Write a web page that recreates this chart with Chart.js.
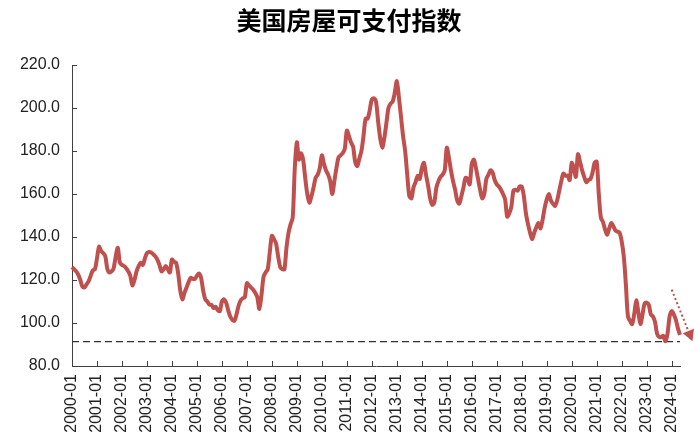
<!DOCTYPE html>
<html>
<head>
<meta charset="utf-8">
<script src="https://cdn.jsdelivr.net/npm/chart.js@4.4.1/dist/chart.umd.min.js"></script>
<style>
  html, body { margin: 0; padding: 0; background: #ffffff; }
  #wrap { width: 700px; height: 438px; position: relative; }
</style>
</head>
<body>
<div id="wrap"><canvas id="c" width="700" height="438"></canvas></div>
<script>
// ---- DATA ----
const title = '美国房屋可支付指数';
const startYear = 2000;
const affordability = [
  // 2000
  126,125,124,122.5,120,117,116.5,118,119.5,122,124.5,125,
  // 2001
  130,135.5,133.5,132.5,131,125,123.5,124,125.5,131,135,128,
  // 2002
  127,126.5,125.5,124,122,117.5,120,124,126.5,128,127,130,
  // 2003
  132.5,133,132.8,132,131,129.5,127,124,125,126.5,125,123.5,
  // 2004
  129.5,128.5,128,123,115,111,114,116.5,119,121,120.5,120.5,
  // 2005
  122,123,121,115,111,110,108.5,108.5,107,107.5,106,105.5,
  // 2006
  110,111,109.5,106,103,101.5,101,104,108,110.5,111.5,112,
  // 2007
  118.5,117.5,116.5,115.5,114,112,106.5,113,121.5,123.5,125,133,
  // 2008
  140.5,139,137,131,126,125,125,135,142,146,149,172,
  // 2009
  184,176,179,176,167.5,160,156,159,163,167.5,169,172,
  // 2010
  178,174,171,169,166,160,166,172,177,178,179,181,
  // 2011
  189.5,187,184,182,175,173,176.5,180,187,195,195,199,
  // 2012
  204,204.5,203,194,186,181.5,186,193,200,202,203,207,
  // 2013
  212.5,205,196,187,180,169,159,158,163,165.5,168.5,167,
  // 2014
  172,174.5,169,164,158,155,156,163,166,168,169,171,
  // 2015
  181.5,177,171,166,162,157,155.5,159,163,167.5,167,164.5,
  // 2016
  174,176,172,167,162,158,160,167,169,171,170,166.5,
  // 2017
  164.5,163.5,162,160,157.5,149.5,151,154,161.5,162,161.5,163.5,
  // 2018
  163.5,159,151,146,142,139,142,144.5,146.5,144,148,153.5,
  // 2019
  157.5,160,157,155.5,154.5,157,161.5,166,169.5,168.5,168.5,166.5,
  // 2020
  174.5,172,168,178.5,175,171,168,165.5,166.5,167,170,174.5,
  // 2021
  175,160,149,147,143.5,141,144,146.5,145,143,142.5,142,
  // 2022
  138,131,118,103,101,99.5,104,110.5,105,99.5,104,109,
  // 2023
  109.5,108.5,104,103,100.5,95,93.5,93.5,94,91.5,95,103,
  // 2024
  105.5,104,101.5,97.5,94.5
];
const floorLevel = 91.3;            // dashed reference line (series low)
const yTicks = [80, 100, 120, 140, 160, 180, 200, 220];
const arrowFrom = [288, 115.5];     // [month index, value]
const arrowTo = [298, 91.5];

// category labels (YYYY-MM)
const months = [];
for (let i = 0; i < affordability.length; i++) {
  const y = startYear + Math.floor(i / 12);
  const m = (i % 12) + 1;
  months.push(y + '-' + (m < 10 ? '0' + m : m));
}
const floorSeries = months.map(() => floorLevel);

const RED = 'rgb(192,80,77)';
const AXIS = '#404040';
const FONT = "'Liberation Sans', Arial, sans-serif";

const decor = {
  id: 'decor',
  afterDraw(chart) {
    const {ctx} = chart;
    const xs = chart.scales.x, ys = chart.scales.y;
    ctx.save();
    ctx.strokeStyle = AXIS;
    ctx.lineWidth = 1;
    // inward y ticks
    yTicks.forEach(v => {
      const py = Math.round(ys.getPixelForValue(v)) + 0.5;
      ctx.beginPath();
      ctx.moveTo(xs.left, py);
      ctx.lineTo(xs.left + 5, py);
      ctx.stroke();
    });
    // inward x ticks at each January
    for (let i = 0; i < months.length; i += 12) {
      const px = Math.round(xs.getPixelForValue(i)) + 0.5;
      ctx.beginPath();
      ctx.moveTo(px, ys.bottom);
      ctx.lineTo(px, ys.bottom - 5);
      ctx.stroke();
    }
    // dotted arrow
    const x0 = xs.getPixelForValue(arrowFrom[0]), y0 = ys.getPixelForValue(arrowFrom[1]);
    const x1 = xs.getPixelForValue(arrowTo[0]), y1 = ys.getPixelForValue(arrowTo[1]);
    const ang = Math.atan2(y1 - y0, x1 - x0);
    const headLen = 11;
    const bx = x1 - headLen * Math.cos(ang), by = y1 - headLen * Math.sin(ang);
    ctx.strokeStyle = RED;
    ctx.lineWidth = 2;
    ctx.setLineDash([2, 2.5]);
    ctx.beginPath();
    ctx.moveTo(x0, y0);
    ctx.lineTo(bx, by);
    ctx.stroke();
    ctx.setLineDash([]);
    ctx.fillStyle = RED;
    ctx.beginPath();
    ctx.moveTo(x1, y1);
    ctx.lineTo(bx + 6 * Math.cos(ang + Math.PI / 2), by + 6 * Math.sin(ang + Math.PI / 2));
    ctx.lineTo(bx + 6 * Math.cos(ang - Math.PI / 2), by + 6 * Math.sin(ang - Math.PI / 2));
    ctx.closePath();
    ctx.fill();
    ctx.restore();
  }
};

new Chart(document.getElementById('c'), {
  type: 'line',
  data: {
    labels: months,
    datasets: [
      {
        data: affordability,
        borderColor: RED,
        borderWidth: 4,
        pointRadius: 0,
        tension: 0.3,
        fill: false,
        order: 1
      },
      {
        data: floorSeries,
        borderColor: '#333333',
        borderWidth: 1.3,
        borderDash: [7, 4],
        pointRadius: 0,
        tension: 0,
        fill: false,
        order: 2
      }
    ]
  },
  options: {
    responsive: false,
    animation: false,
    events: [],
    layout: { padding: { left: 18, right: 20, top: 0, bottom: 0 } },
    plugins: {
      legend: { display: false },
      tooltip: { enabled: false },
      title: {
        display: true,
        text: title,
        color: '#000000',
        font: { family: "'Noto Sans CJK SC', sans-serif", size: 25, weight: 'bold' },
        padding: { top: 5, bottom: 30 }
      }
    },
    scales: {
      x: {
        type: 'category',
        offset: false,
        grid: { display: true, drawOnChartArea: false, drawTicks: false },
        border: { display: true, color: AXIS, width: 1 },
        ticks: {
          autoSkip: false,
          minRotation: 90,
          maxRotation: 90,
          padding: 8,
          color: '#222222',
          font: { family: FONT, size: 16 },
          callback: function(val, idx) { return idx % 12 === 0 ? months[idx] : ''; }
        },
        afterFit: function(scale) { scale.height = 72; scale.paddingRight = 0; scale.paddingLeft = 0; }
      },
      y: {
        min: 80,
        max: 220,
        grid: { display: true, drawOnChartArea: false, drawTicks: false },
        border: { display: true, color: AXIS, width: 1 },
        afterBuildTicks: function(scale) { scale.ticks = yTicks.map(v => ({ value: v })); },
        ticks: {
          padding: 12,
          color: '#222222',
          font: { family: FONT, size: 16 },
          callback: function(v) { return Number(v).toFixed(1); }
        },
        afterFit: function(scale) { scale.width = 54; }
      }
    }
  },
  plugins: [decor]
});
</script>
</body>
</html>
